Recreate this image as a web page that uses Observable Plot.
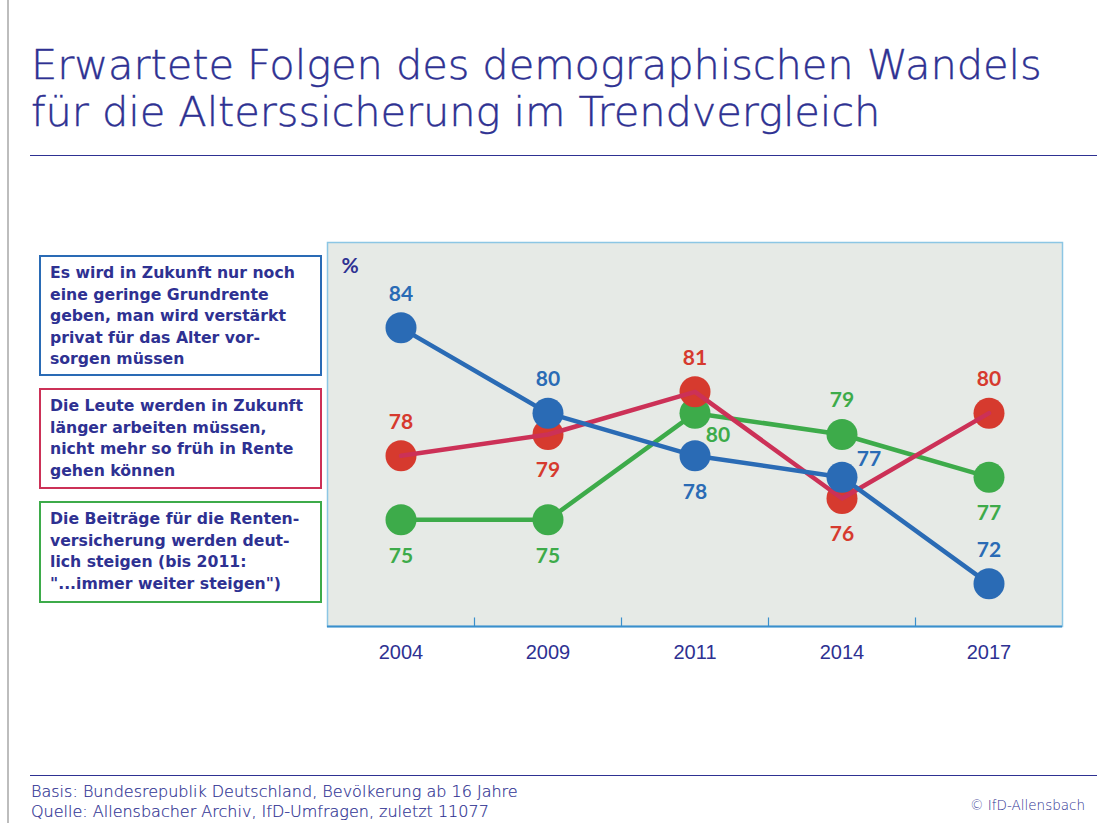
<!DOCTYPE html>
<html>
<head>
<meta charset="utf-8">
<script src="https://cdn.jsdelivr.net/npm/d3@7"></script>
<script src="https://cdn.jsdelivr.net/npm/@observablehq/plot@0.6"></script>
<style>
  html, body { margin: 0; padding: 0; background: #fff; }
  #page { position: relative; width: 1097px; height: 823px; overflow: hidden; background: #fff; }
  .vline { position: absolute; left: 7px; top: 0; width: 2px; height: 823px; background: #bdbdbd; }
  .title { position: absolute; left: 31px; top: 41px; font-family: "DejaVu Sans"; font-weight: 200; font-size: 41.6px; line-height: 47px; color: #2e3192; white-space: nowrap; letter-spacing: -0.1px; -webkit-text-stroke: 0.4px #2e3192; }
  .rule { position: absolute; left: 30px; right: 0; height: 1px; background: #2e3192; }
  .box { position: absolute; left: 39px; padding: 5px 0 0 9px; border: 2px solid; font-family: "DejaVu Sans"; font-weight: 700; font-size: 15.7px; line-height: 21.5px; color: #2e3192; box-sizing: border-box; white-space: nowrap; }
  .foot { position: absolute; left: 31px; font-family: "DejaVu Sans"; font-weight: 200; font-size: 16px; color: #2e3192; white-space: nowrap; -webkit-text-stroke: 0.2px #2e3192; }
  .copy { position: absolute; right: 12px; top: 797px; font-family: "DejaVu Sans"; font-weight: 200; font-size: 13.5px; color: #2e3192; }
  #chart { position: absolute; left: 317px; top: 232px; }
</style>
</head>
<body>
<div id="page">
  <div class="vline"></div>
  <div class="title">Erwartete Folgen des demographischen Wandels<br>für die Alterssicherung im Trendvergleich</div>
  <div class="rule" style="top:155px"></div>
  <div id="legend"></div>
  <div id="chart"></div>
  <div class="rule" style="top:775px"></div>
  <div class="foot" style="top:782px">Basis: Bundesrepublik Deutschland, Bevölkerung ab 16 Jahre</div>
  <div class="foot" style="top:802px">Quelle: Allensbacher Archiv, IfD-Umfragen, zuletzt 11077</div>
  <div class="copy">© IfD-Allensbach</div>
</div>
<script>
// ---- data ----
const years = ["2004", "2009", "2011", "2014", "2017"];
const grundrente = [84, 80, 78, 77, 72];
const laenger = [78, 79, 81, 76, 80];
const beitraege = [75, 75, 80, 79, 77];
const legendTexts = [
  ["Es wird in Zukunft nur noch", "eine geringe Grundrente", "geben, man wird verstärkt", "privat für das Alter vor-", "sorgen müssen"],
  ["Die Leute werden in Zukunft", "länger arbeiten müssen,", "nicht mehr so früh in Rente", "gehen können"],
  ["Die Beiträge für die Renten-", "versicherung werden deut-", "lich steigen (bis 2011:", "\"...immer weiter steigen\")"]
];

// ---- styling ----
const series = [
  {key: "grundrente", values: grundrente, dot: "#2a6bb5", line: "#2a6bb5", text: "#2a6bb5",
   place: ["above", "above", "below", "rightAbove", "above"], boxTop: 255, boxH: 121},
  {key: "laenger", values: laenger, dot: "#d63a2e", line: "#cc3157", text: "#d63a2e",
   place: ["above", "below", "above", "below", "above"], boxTop: 388, boxH: 101},
  {key: "beitraege", values: beitraege, dot: "#3dab4a", line: "#3dab4a", text: "#3dab4a",
   place: ["below", "below", "rightBelow", "above", "below"], boxTop: 501, boxH: 102}
];
const offsets = {above: [0, -34], below: [0, 36], rightAbove: [27, -18], rightBelow: [23, 22]};

// legend boxes
const legend = document.getElementById("legend");
series.forEach((s, k) => {
  const d = document.createElement("div");
  d.className = "box";
  d.style.top = s.boxTop + "px";
  d.style.height = s.boxH + "px";
  d.style.width = "283px";
  d.style.borderColor = s.line;
  d.innerHTML = legendTexts[k].join("<br>");
  legend.appendChild(d);
});

const rows = s => s.values.map((v, i) => ({i, year: years[i], value: v, place: s.place[i]}));
const [B, R, G] = series;

const lineMark = s => Plot.line(rows(s), {x: "i", y: "value", stroke: s.line, strokeWidth: 4.5});
const dotMark = s => Plot.dot(rows(s), {x: "i", y: "value", r: 15.5, fill: s.dot});
const labelMarks = s => Object.keys(offsets).map(p =>
  Plot.text(rows(s).filter(d => d.place === p), {
    x: "i", y: "value", text: d => String(d.value),
    dx: offsets[p][0], dy: offsets[p][1],
    fill: s.text, fontSize: 21, fontWeight: 700, fontFamily: "Lato"
  }));

const boundaries = d3.range(0.5, years.length - 1);

const chart = Plot.plot({
  width: 755, height: 444,
  marginTop: 10, marginRight: 10, marginBottom: 50, marginLeft: 10,
  x: {type: "linear", domain: [-0.5, years.length - 0.5]},
  y: {domain: [70, 88], axis: null},
  style: {background: "transparent", overflow: "visible"},
  marks: [
    Plot.frame({fill: "#e6eae6", stroke: "#8cc6e4", strokeWidth: 1.5}),
    Plot.ruleY([70], {stroke: "#3a8fcc", strokeWidth: 2}),
    Plot.ruleX(boundaries, {y1: 70, y2: 70.4, stroke: "#3a8fcc", strokeWidth: 1.2}),
    Plot.axisX(d3.range(years.length), {
      tickFormat: i => years[i], tickSize: 0, tickPadding: 18,
      fontSize: 20, fill: "#2e3192", fontFamily: "Liberation Sans", label: null
    }),
    Plot.text(["%"], {frameAnchor: "top-left", dx: 14, dy: 16, fontSize: 21, fontWeight: 700, fill: "#2e3192", fontFamily: "Lato"}),
    lineMark(G), dotMark(G),
    dotMark(R), lineMark(R),
    lineMark(B), dotMark(B),
    ...labelMarks(G), ...labelMarks(R), ...labelMarks(B)
  ]
});
document.getElementById("chart").appendChild(chart);
</script>
</body>
</html>
